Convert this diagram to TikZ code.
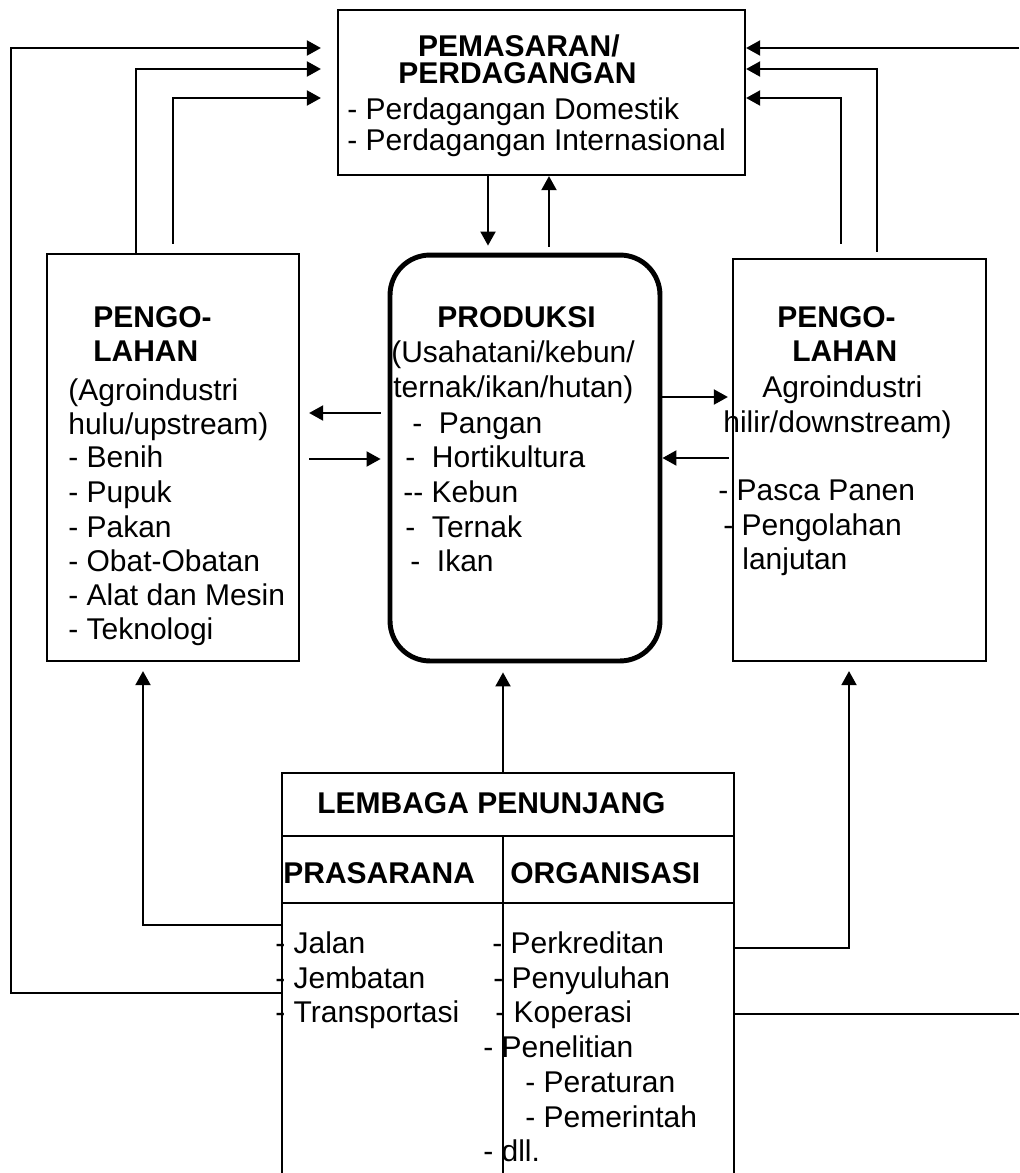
\documentclass[tikz,border=0pt]{standalone}
\usepackage{fontspec}
\setmainfont{Liberation Sans}
\usetikzlibrary{arrows.meta}

\begin{document}
\begin{tikzpicture}
[x=0.02cm, y=-0.02cm,
box/.style={draw, line width=1.3pt, inner sep=0pt},
prod/.style={draw, line width=2.8pt, rounded corners=0.8cm, inner sep=0pt},
lbl/.style={anchor=base west, inner sep=0pt, font=\fontsize{17.07}{19.92}\selectfont},
head/.style={lbl, font=\fontsize{17.07}{19.92}\selectfont\bfseries},
link/.style={line width=1.1pt},
arr/.style={link, -{Triangle[length=0.28cm, width=0.3cm]}}]
\useasboundingbox (0,0) rectangle (1019,1173);
% boxes
\node[box, minimum width=8.14cm, minimum height=3.3cm] (pemasaran) at (541.5,92.5) {};
\node[box, minimum width=5.04cm, minimum height=8.14cm] (hulu) at (173,457.5) {};
\node[prod, minimum width=5.4cm, minimum height=8.12cm] (produksi) at (525,458) {};
\node[box, minimum width=5.06cm, minimum height=8.04cm] (hilir) at (859.5,460) {};
\node[inner sep=0pt, minimum width=9.04cm, minimum height=8cm] (lembaga) at (508,973) {};
\draw[box] (lembaga.south west) |- (lembaga.north east) -- (lembaga.south east);
\draw[box] (lembaga.west |- 0,836) -- (lembaga.east |- 0,836);
\draw[box] (lembaga.west |- 0,903) -- (lembaga.east |- 0,903);
\draw[box] (503,836) -- (503,0 |- lembaga.south);
\coordinate (kiri) at (11,48);
\coordinate (kanan1) at (1019,1014);
\coordinate (kanan2) at (1019,48);
% pemasaran <-> produksi
\draw[arr, shorten >=0.14cm] (488,0 |- pemasaran.south) -- (488,0 |- produksi.north);
\draw[arr, shorten <=0.12cm] (549,0 |- produksi.north) -- (549,0 |- pemasaran.south);
% produksi <-> pengolahan
\draw[arr, shorten <=0.14cm, shorten >=0.18cm] (produksi.west |- 0,413) -- (hulu.east |- 0,413);
\draw[arr, shorten <=0.18cm, shorten >=0.14cm] (hulu.east |- 0,459) -- (produksi.west |- 0,459);
\draw[arr, shorten >=0.08cm] (produksi.east |- 0,397) -- (hilir.west |- 0,397);
\draw[arr, shorten <=0.06cm] (hilir.west |- 0,458) -- (produksi.east |- 0,458);
% into pemasaran, left side
\draw[arr, shorten >=0.32cm] (lembaga.west |- 0,993) -| (kiri) -- (pemasaran.west |- kiri);
\draw[arr, shorten >=0.32cm] (136,0 |- hulu.north) |- (pemasaran.west |- 0,69);
\draw[arr, shorten <=0.18cm, shorten >=0.32cm] (173,0 |- hulu.north) |- (pemasaran.west |- 0,98);
% into pemasaran, right side
\draw[link] (lembaga.east |- kanan1) -- (kanan1);
\draw[arr] (kanan2) -- (pemasaran.east |- kanan2);
\draw[arr, shorten <=0.12cm] (877,0 |- hilir.north) |- (pemasaran.east |- 0,69);
\draw[arr, shorten <=0.28cm] (841,0 |- hilir.north) |- (pemasaran.east |- 0,98);
% from lembaga
\draw[arr, shorten >=0.18cm] (503,0 |- lembaga.north) -- (503,0 |- produksi.south);
\draw[arr, shorten >=0.18cm] (lembaga.west |- 0,925) -| (143,0 |- hulu.south);
\draw[arr, shorten >=0.18cm] (lembaga.east |- 0,948) -| (849,0 |- hilir.south);
% texts
\node[head, anchor=base east] (pem1) at (620,56) {PEMASARAN/};
\node[head, anchor=base east] (pem2) at (637,83) {PERDAGANGAN};
\node[lbl] (pem3) at (347,119) {- Perdagangan Domestik};
\node[lbl] (pem4) at (347,150) {- Perdagangan Internasional};
\node[head] (hulu1) at (93,327) {PENGO-};
\node[head] (hulu2) at (93,361) {LAHAN};
\node[lbl] (hulu3) at (68,400) {(Agroindustri};
\node[lbl] (hulu4) at (68,434) {hulu/upstream)};
\node[lbl] (hulu5) at (68,467) {- Benih};
\node[lbl] (hulu6) at (68,502) {- Pupuk};
\node[lbl] (hulu7) at (68,537) {- Pakan};
\node[lbl] (hulu8) at (68,571) {- Obat-Obatan};
\node[lbl] (hulu9) at (68,605) {- Alat dan Mesin};
\node[lbl] (hulu10) at (68,639) {- Teknologi};
\node[head] (prod1) at (437,327) {PRODUKSI};
\node[lbl] (prod2) at (391,362) {(Usahatani/kebun/};
\node[lbl] (prod3) at (393,397) {ternak/ikan/hutan)};
\node[lbl] (prod4) at (412,433) {- \ Pangan};
\node[lbl] (prod5) at (405,467) {- \ Hortikultura};
\node[lbl] (prod6) at (403,502) {-{}- Kebun};
\node[lbl] (prod7) at (405,537) {- \ Ternak};
\node[lbl] (prod8) at (410,571) {- \ Ikan};
\node[head] (hilir1) at (777,327) {PENGO-};
\node[head] (hilir2) at (792,361) {LAHAN};
\node[lbl] (hilir3) at (762,397) {Agroindustri};
\node[lbl] (hilir4) at (723,432) {hilir/downstream)};
\node[lbl] (hilir5) at (718,500) {- Pasca Panen};
\node[lbl] (hilir6) at (723,535) {- Pengolahan};
\node[lbl] (hilir7) at (742,569) {lanjutan};
\node[head] (lem1) at (317,813) {LEMBAGA PENUNJANG};
\node[head] (lem2) at (283,883) {PRASARANA};
\node[head] (lem3) at (510,883) {ORGANISASI};
\node[lbl] (pra1) at (275,953) {- Jalan};
\node[lbl] (pra2) at (275,988) {- Jembatan};
\node[lbl] (pra3) at (275,1022) {- Transportasi};
\node[lbl] (org1) at (492,953) {- Perkreditan};
\node[lbl] (org2) at (493,988) {- Penyuluhan};
\node[lbl] (org3) at (495,1022) {- Koperasi};
\node[lbl] (org4) at (483,1057) {- Penelitian};
\node[lbl] (org5) at (525,1092) {- Peraturan};
\node[lbl] (org6) at (525,1127) {- Pemerintah};
\node[lbl] (org7) at (483,1161) {- dll.};
\end{tikzpicture}
\end{document}
